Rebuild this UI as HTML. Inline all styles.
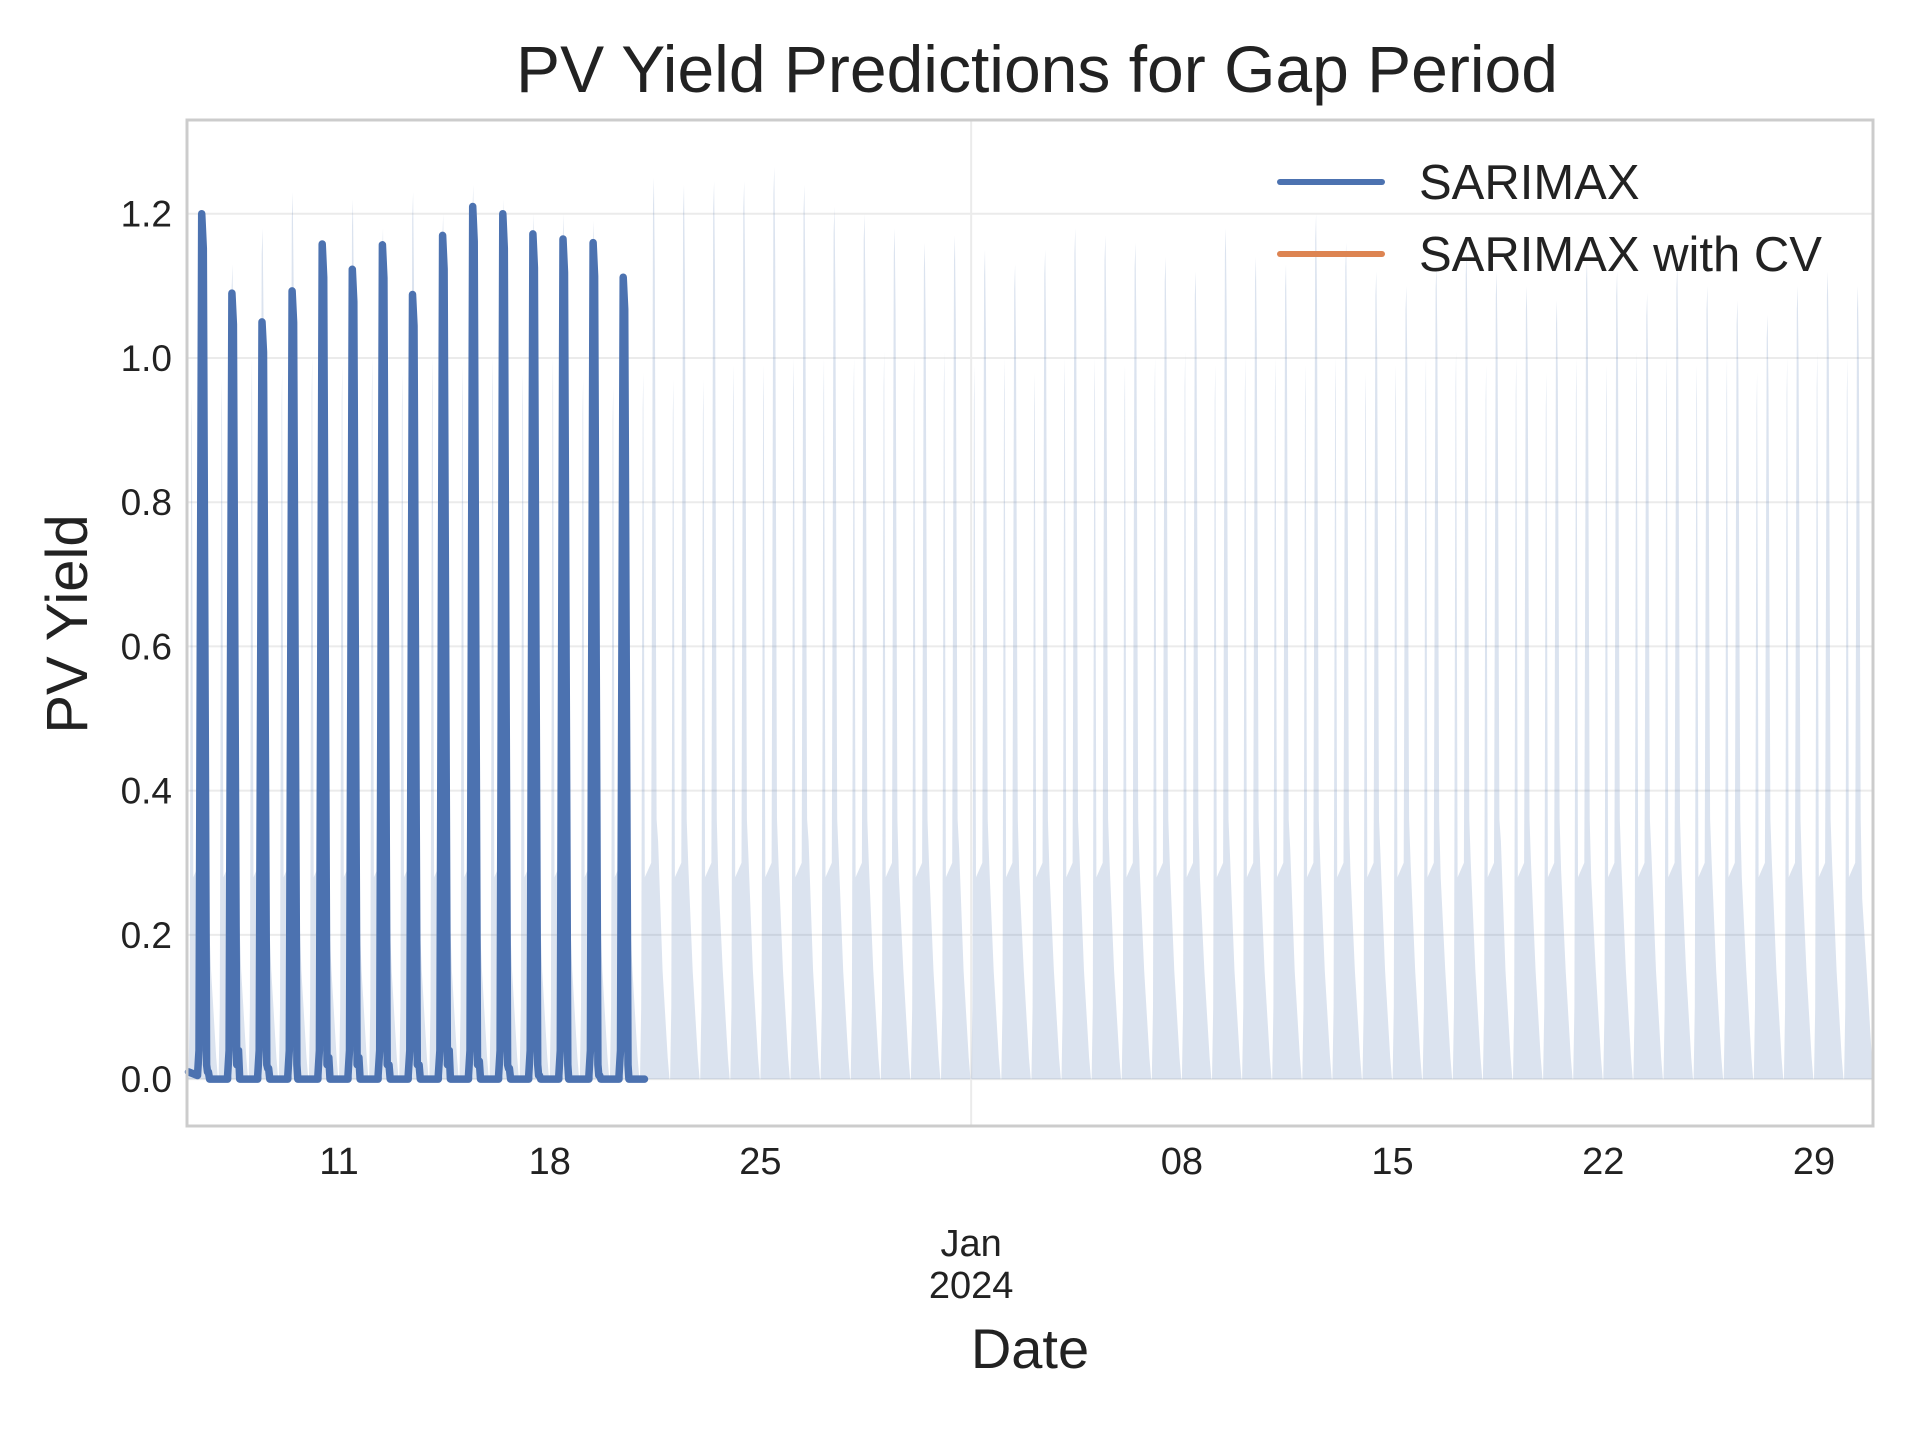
<!DOCTYPE html>
<html><head><meta charset="utf-8"><style>
html,body{margin:0;padding:0;background:#fff;}
svg{display:block;font-family:"Liberation Sans",sans-serif;}
</style></head><body>
<svg id="chart" width="1920" height="1440" viewBox="0 0 1920 1440">
<text x="1037" y="92" font-size="66" text-anchor="middle" fill="#222">PV Yield Predictions for Gap Period</text>
<g id="grid"></g>
<g id="fill"></g>
<g id="lines"></g>
<rect x="187" y="120" width="1686" height="1006" fill="none" stroke="#cccccc" stroke-width="3"/>
<g id="yticks"></g>
<g id="xticks"></g>
<text id="janLabel" x="972" y="1256" font-size="38" text-anchor="middle" fill="#222">Jan</text>
<text id="yearLabel" x="972" y="1298" font-size="38" text-anchor="middle" fill="#222">2024</text>
<text x="1030" y="1368" font-size="56" text-anchor="middle" fill="#222">Date</text>
<text x="0" y="0" font-size="58" text-anchor="middle" fill="#222" transform="translate(87,624) rotate(-90)">PV Yield</text>
<g>
<line x1="1280" y1="182" x2="1382" y2="182" stroke="#4c72b0" stroke-width="6" stroke-linecap="round"/>
<text x="1419" y="199" font-size="49" fill="#222">SARIMAX</text>
<line x1="1280" y1="254" x2="1382" y2="254" stroke="#dd8452" stroke-width="6" stroke-linecap="round"/>
<text x="1419" y="271" font-size="49" fill="#222">SARIMAX with CV</text>
</g>
</svg>
<script>
const yTicks = [0.0, 0.2, 0.4, 0.6, 0.8, 1.0, 1.2];
const yTickLabels = ["0.0","0.2","0.4","0.6","0.8","1.0","1.2"];
const xTickDays = [5, 12, 19, 26, 33, 40, 47, 54];
const xTickLabels = ["11","18","25","","08","15","22","29"];
const ciMain = [1.0,1.13,1.18,1.23,1.15,1.22,1.18,1.23,1.2,1.24,1.22,1.2,1.2,1.19,1.12,1.25,1.24,1.245,1.245,1.265,1.24,1.21,1.2,1.18,1.16,1.17,1.15,1.13,1.15,1.18,1.17,1.16,1.14,1.12,1.18,1.14,1.13,1.2,1.16,1.12,1.1,1.13,1.15,1.12,1.1,1.08,1.14,1.12,1.09,1.13,1.1,1.08,1.06,1.1,1.12,1.1];
const ciSecond = [0.95,0.97,1.0,0.98,1.0,0.99,1.0,0.98,1.0,0.99,1.0,0.98,1.0,0.97,0.96,0.98,0.97,0.97,0.99,0.99,1.0,1.0,1.0,1.01,1.0,1.01,0.99,1.0,0.98,1.0,1.0,0.99,1.0,1.01,0.99,1.0,1.0,0.99,1.0,0.98,0.99,1.0,1.01,0.99,1.0,0.98,1.0,0.99,1.01,1.0,0.99,1.0,0.98,1.0,1.01,1.0];
const ciBase = [0.3,0.32,0.3,0.33,0.28,0.3,0.31,0.3,0.33,0.29,0.3,0.32,0.3,0.31,0.28,0.33,0.3,0.28,0.31,0.3,0.33,0.31,0.3,0.28,0.3,0.32,0.3,0.28,0.29,0.31,0.3,0.29,0.3,0.28,0.31,0.3,0.32,0.3,0.29,0.31,0.3,0.28,0.3,0.33,0.3,0.29,0.28,0.3,0.31,0.29,0.3,0.28,0.3,0.29,0.3,0.25];
const sarimaxPeaks = [1.2,1.09,1.05,1.093,1.158,1.123,1.157,1.088,1.17,1.21,1.2,1.172,1.165,1.16,1.112];
const sarimaxBumps = [0.01,0.04,0.015,0.0,0.03,0.03,0.02,0.02,0.04,0.025,0.015,0.005,0.0,0.005,0.0];
const sarimaxEndDay = 15.15;

const NS = "http://www.w3.org/2000/svg";
const L = 187, R = 1873, T = 120, B = 1126;
const xMin = -0.05, xMax = 55.96, yMin = -0.065, yMax = 1.33;
function xs(d){ return L + (d - xMin) / (xMax - xMin) * (R - L); }
function ys(v){ return B - (v - yMin) / (yMax - yMin) * (B - T); }
function mk(tag, attrs, parent){ const e = document.createElementNS(NS, tag); for (const k in attrs) e.setAttribute(k, attrs[k]); parent.appendChild(e); return e; }

const grid = document.getElementById('grid');
const yt = document.getElementById('yticks');
yTicks.forEach((v, i) => {
  const gl = mk('line', {x1: L, x2: R, y1: ys(v), y2: ys(v), stroke: '#ebebeb', 'stroke-width': 2}, grid);
  
  
  const t = mk('text', {x: 172, y: ys(v) + 13, 'font-size': 37, 'text-anchor': 'end', fill: '#222'}, yt);
  t.textContent = yTickLabels[i];
  
  
});
const vg = mk('line', {x1: xs(26), x2: xs(26), y1: T, y2: B, stroke: '#ebebeb', 'stroke-width': 2}, grid);


document.getElementById('janLabel').setAttribute('x', xs(26));
document.getElementById('yearLabel').setAttribute('x', xs(26));
const xt = document.getElementById('xticks');
xTickDays.forEach((d, i) => {
  if (!xTickLabels[i]) return;
  const t = mk('text', {x: xs(d), y: 1174, 'font-size': 38, 'text-anchor': 'middle', fill: '#222'}, xt);
  t.textContent = xTickLabels[i];
  
  
});

// confidence band
const fillG = document.getElementById('fill');
ciMain.forEach((pk, d) => {
  const s = ciSecond[d];
  const pts = [[d+0.0,0],[d+0.04,0.1],[d+0.09,s*0.95],[d+0.11,s],[d+0.16,0.28],[d+0.37,0.3],[d+0.43,pk*0.97],[d+0.46,pk],[d+0.49,pk*0.9],[d+0.55,0.36],[d+0.6,ciBase[d]],[d+0.75,0.15],[d+0.92,0.03],[d+0.98,0]];
  const p = mk('polygon', {points: pts.map(q => xs(Math.min(q[0], xMax)).toFixed(1) + ',' + ys(q[1]).toFixed(1)).join(' '), fill: '#4c72b0', 'fill-opacity': 0.2}, fillG);
  
  
});

// SARIMAX line
let sp = [[0, 0.01]];
sarimaxPeaks.forEach((pk, d) => {
  const b = sarimaxBumps[d];
  sp.push([d+0.3,0.005],[d+0.35,0.04],[d+0.44,pk],[d+0.49,pk*0.96],[d+0.6,0.02],[d+0.63,b],[d+0.66,b],[d+0.7,0.0],[d+1.3,0.0]);
});
sp.push([sarimaxEndDay, 0]);
sp = sp.filter(q => q[0] <= sarimaxEndDay);
const line = mk('polyline', {points: sp.map(q => xs(q[0]).toFixed(1) + ',' + ys(q[1]).toFixed(1)).join(' '), fill: 'none', stroke: '#4c72b0', 'stroke-width': 7.5, 'stroke-linejoin': 'round', 'stroke-linecap': 'round'}, document.getElementById('lines'));


</script>
</body></html>
